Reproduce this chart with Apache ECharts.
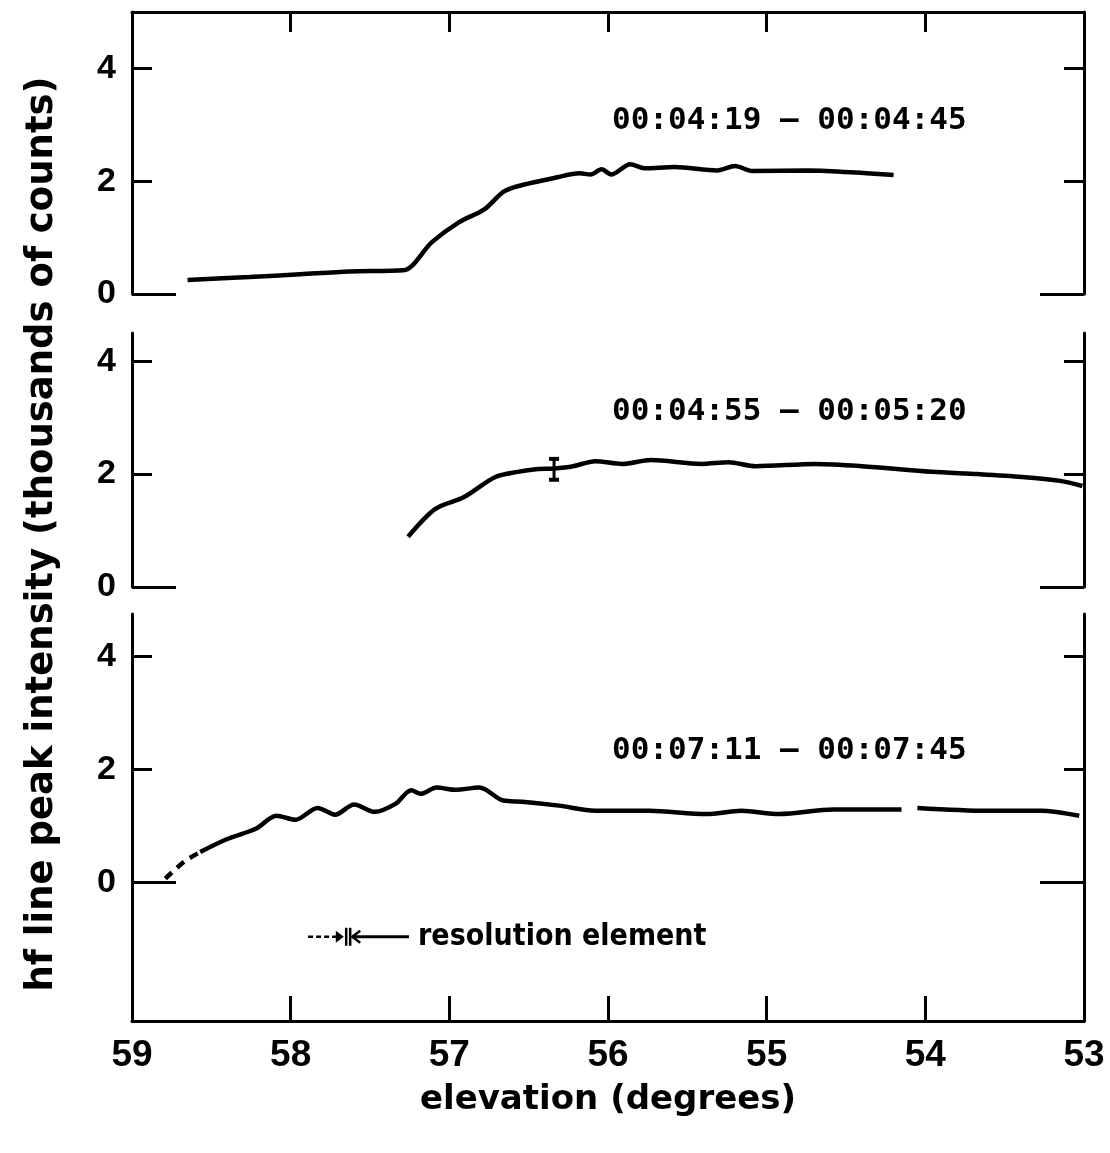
<!DOCTYPE html>
<html><head><meta charset="utf-8">
<script src="https://cdn.jsdelivr.net/npm/echarts@6/dist/echarts.min.js"></script>
<style>html,body{margin:0;padding:0;background:#fff}#c{width:1110px;height:1153px}</style>
</head><body><div id="c"></div>
<script>
// ---- data ----
const xTickValues = [53, 54, 55, 56, 57, 58, 59];
const yTickLabels = [0, 2, 4];
const yShortTicks = [2, 4];
const yLongTicks = [0];
const panelLabels = ['00:04:19 – 00:04:45', '00:04:55 – 00:05:20', '00:07:11 – 00:07:45'];
const yAxisTitle = 'hf line peak intensity (thousands of counts)';
const xAxisTitle = 'elevation (degrees)';

const topX = [58.65, 58.26, 57.94, 57.63, 57.29, 57.11, 56.94, 56.78, 56.66, 56.57, 56.32, 56.18, 56.11, 56.04, 55.98, 55.86, 55.77, 55.58, 55.31, 55.20, 55.09, 54.73, 54.37, 54.20];
const topY = [0.25, 0.30, 0.35, 0.40, 0.42, 0.92, 1.27, 1.50, 1.81, 1.91, 2.07, 2.14, 2.12, 2.21, 2.12, 2.30, 2.23, 2.25, 2.19, 2.27, 2.18, 2.19, 2.14, 2.11];

const midX = [57.26, 57.09, 56.91, 56.71, 56.57, 56.44, 56.34, 56.22, 56.08, 55.91, 55.73, 55.41, 55.24, 55.07, 54.69, 54.40, 53.96, 53.67, 53.39, 53.15, 53.01];
const midY = [0.89, 1.38, 1.59, 1.95, 2.04, 2.09, 2.10, 2.14, 2.23, 2.18, 2.25, 2.18, 2.21, 2.14, 2.18, 2.14, 2.04, 2.00, 1.95, 1.88, 1.79];
const midErrX = [56.34];
const midErrLow = [1.90];
const midErrHigh = [2.27];

const botDashX = [58.79, 58.67, 58.57];
const botDashY = [0.07, 0.37, 0.54];
const botX = [58.57, 58.40, 58.22, 58.09, 57.97, 57.83, 57.72, 57.60, 57.47, 57.34, 57.24, 57.18, 57.08, 56.96, 56.81, 56.66, 56.54, 56.31, 56.08, 55.74, 55.38, 55.16, 54.92, 54.58, 54.15, 54.10, 54.05, 53.61, 53.27, 53.03];
const botY = [0.54, 0.77, 0.95, 1.18, 1.11, 1.32, 1.20, 1.38, 1.25, 1.39, 1.63, 1.57, 1.68, 1.64, 1.68, 1.45, 1.43, 1.36, 1.27, 1.27, 1.21, 1.27, 1.21, 1.29, 1.29, null, 1.32, 1.27, 1.27, 1.18];

// resolution element marker: dashed start, right arrow tip, bar 1, bar 2, left arrow tip, solid end
const resolutionX = [57.89, 57.665, 57.650, 57.625, 57.612, 57.254];
const resolutionYVal = [-0.96];
const resolutionText = 'resolution element';

const yRanges = [[0, 5], [0, 4.5], [-2.45, 4.75]];

// ---- helpers ----
const pairs = (xs, ys) => xs.map((x, i) => [x, ys[i] === null ? '-' : ys[i]]);
const BLACK = '#000';
const LW = 3;
const grids = [
  { left: 132, right: 26, top: 12, height: 282 },
  { left: 132, right: 26, top: 333, height: 254 },
  { left: 132, right: 26, top: 614, height: 407 }
];

const xAxes = [
  {
    gridIndex: 0, type: 'value', min: 53, max: 59, interval: 1, inverse: true, position: 'top',
    axisLine: { show: true, onZero: false, lineStyle: { color: BLACK, width: LW } },
    axisTick: { show: true, inside: true, length: 20, lineStyle: { color: BLACK, width: LW } },
    axisLabel: { show: false }, splitLine: { show: false }
  },
  {
    gridIndex: 1, type: 'value', min: 53, max: 59, interval: 1, inverse: true, show: false,
    axisLine: { onZero: false },
    splitLine: { show: false }
  },
  {
    gridIndex: 2, type: 'value', min: 53, max: 59, interval: 1, inverse: true, position: 'bottom',
    axisLine: { show: true, onZero: false, lineStyle: { color: BLACK, width: LW } },
    axisTick: { show: true, inside: true, length: 25, lineStyle: { color: BLACK, width: LW } },
    axisLabel: {
      color: BLACK, fontSize: 37, fontWeight: 'bold', fontFamily: 'Liberation Sans', margin: 16,
      customValues: xTickValues
    },
    splitLine: { show: false },
    name: xAxisTitle, nameLocation: 'middle', nameGap: 62,
    nameTextStyle: { color: BLACK, fontSize: 34, fontWeight: 'bold', fontFamily: 'DejaVu Sans' }
  }
];

const yAxes = [];
grids.forEach((g, gi) => {
  const [mn, mx] = yRanges[gi];
  ['left', 'right'].forEach(pos => {
    yAxes.push({
      gridIndex: gi, type: 'value', min: mn, max: mx, position: pos,
      axisLine: { show: true, onZero: false, lineStyle: { color: BLACK, width: LW } },
      axisTick: { show: true, inside: true, length: 20, customValues: yShortTicks, lineStyle: { color: BLACK, width: LW } },
      axisLabel: pos === 'left'
        ? { show: true, customValues: yTickLabels, color: BLACK, fontSize: 34, fontWeight: 'bold', fontFamily: 'Liberation Sans', margin: 16 }
        : { show: false },
      splitLine: { show: false }
    });
    yAxes.push({
      gridIndex: gi, type: 'value', min: mn, max: mx, position: pos,
      axisLine: { show: false, onZero: false },
      axisTick: { show: true, inside: true, length: 44, customValues: yLongTicks, lineStyle: { color: BLACK, width: LW } },
      axisLabel: { show: false },
      splitLine: { show: false }
    });
  });
});

const curveStyle = { color: BLACK, width: 4.5 };
const series = [
  {
    type: 'line', xAxisIndex: 0, yAxisIndex: 0, data: pairs(topX, topY),
    showSymbol: false, smooth: 0.3, lineStyle: curveStyle, silent: true
  },
  {
    type: 'line', xAxisIndex: 1, yAxisIndex: 4, data: pairs(midX, midY),
    showSymbol: false, smooth: 0.3, lineStyle: curveStyle, silent: true
  },
  {
    type: 'custom', xAxisIndex: 1, yAxisIndex: 4,
    data: midErrX.map((x, i) => [x, midErrLow[i], midErrHigh[i]]),
    renderItem: (params, api) => {
      const lo = api.coord([api.value(0), api.value(1)]);
      const hi = api.coord([api.value(0), api.value(2)]);
      const cap = 5;
      return {
        type: 'group', children: [
          { type: 'line', shape: { x1: lo[0], y1: lo[1], x2: hi[0], y2: hi[1] }, style: { stroke: BLACK, lineWidth: 3 } },
          { type: 'line', shape: { x1: lo[0] - cap, y1: lo[1], x2: lo[0] + cap, y2: lo[1] }, style: { stroke: BLACK, lineWidth: 4 } },
          { type: 'line', shape: { x1: hi[0] - cap, y1: hi[1], x2: hi[0] + cap, y2: hi[1] }, style: { stroke: BLACK, lineWidth: 4 } }
        ]
      };
    }
  },
  {
    type: 'line', xAxisIndex: 2, yAxisIndex: 8, data: pairs(botDashX, botDashY),
    showSymbol: false, smooth: 0.3, lineStyle: { color: BLACK, width: 4.5, type: [9, 7] }, silent: true
  },
  {
    type: 'line', xAxisIndex: 2, yAxisIndex: 8, data: pairs(botX, botY), connectNulls: false,
    showSymbol: false, smooth: 0.3, lineStyle: curveStyle, silent: true
  },
  {
    type: 'custom', xAxisIndex: 2, yAxisIndex: 8,
    data: [resolutionX.concat(resolutionYVal)],
    renderItem: (params, api) => {
      const yv = api.value(6);
      const p = [0, 1, 2, 3, 4, 5].map(i => api.coord([api.value(i), yv]));
      const y = p[0][1];
      const ah = 6, aw = 8, bh = 9;
      return {
        type: 'group', children: [
          { type: 'line', shape: { x1: p[0][0], y1: y, x2: p[1][0] - aw + 1, y2: y }, style: { stroke: BLACK, lineWidth: 2.5, lineDash: [5, 3] } },
          { type: 'polygon', shape: { points: [[p[1][0], y], [p[1][0] - aw, y - ah], [p[1][0] - aw, y + ah]] }, style: { fill: BLACK } },
          { type: 'line', shape: { x1: p[2][0], y1: y - bh, x2: p[2][0], y2: y + bh }, style: { stroke: BLACK, lineWidth: 2.5 } },
          { type: 'line', shape: { x1: p[3][0], y1: y - bh, x2: p[3][0], y2: y + bh }, style: { stroke: BLACK, lineWidth: 2.5 } },
          { type: 'polyline', shape: { points: [[p[4][0] + aw, y - ah], [p[4][0], y], [p[4][0] + aw, y + ah]] }, style: { stroke: BLACK, lineWidth: 2.5, fill: null } },
          { type: 'line', shape: { x1: p[4][0], y1: y, x2: p[5][0], y2: y }, style: { stroke: BLACK, lineWidth: 3 } },
          { type: 'text', x: p[5][0] + 9, y: y, style: { text: resolutionText, fill: BLACK, font: 'bold 30px "DejaVu Sans Condensed", "DejaVu Sans"', textAlign: 'left', textVerticalAlign: 'middle' } }
        ]
      };
    }
  }
];

const labelTops = [122, 413, 752];
const graphic = panelLabels.map((t, i) => ({
  type: 'text', left: 612, top: labelTops[i] - 17,
  style: { text: t, fill: BLACK, font: 'bold 31px "DejaVu Sans Mono"' }
}));
graphic.push({
  type: 'text', x: 42, y: 534, rotation: Math.PI / 2,
  style: { text: yAxisTitle, fill: BLACK, font: 'bold 37px "DejaVu Sans"', textAlign: 'center', textVerticalAlign: 'middle' }
});

const chart = echarts.init(document.getElementById('c'), null, { renderer: 'canvas' });
chart.setOption({
  backgroundColor: '#fff',
  animation: false,
  grid: grids,
  xAxis: xAxes,
  yAxis: yAxes,
  series: series,
  graphic: graphic
});
</script>
</body></html>
